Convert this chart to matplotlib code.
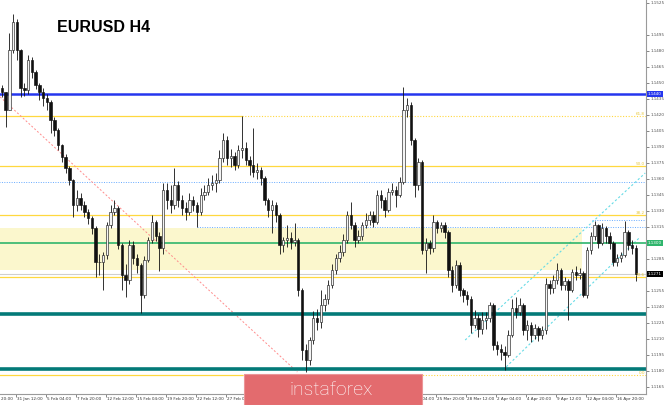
import matplotlib
matplotlib.use("Agg")
import matplotlib.pyplot as plt
import matplotlib.transforms as mtransforms
from matplotlib.patches import Rectangle

# ============================================================
# Price data (2 x H4 bars per candle), values in 1e-4 units
# ============================================================

first_open = 11445

closes = [11442, 11425, 11481, 11507, 11481, 11445, 11443, 11472, 11460, 11448,
          11442, 11436, 11432, 11415, 11406, 11392, 11381, 11370, 11359, 11336,
          11342, 11336, 11329, 11323, 11314, 11282, 11282, 11289, 11317, 11329,
          11333, 11298, 11270, 11265, 11298, 11286, 11279, 11251, 11284, 11303,
          11320, 11307, 11295, 11350, 11340, 11336, 11354, 11340, 11333, 11329,
          11340, 11336, 11329, 11345, 11348, 11354, 11356, 11359, 11380, 11397,
          11380, 11382, 11373, 11387, 11389, 11378, 11373, 11367, 11368, 11361,
          11340, 11331, 11336, 11326, 11298, 11303, 11305, 11301, 11303, 11256,
          11200, 11190, 11209, 11230, 11226, 11242, 11247, 11261, 11275, 11286,
          11292, 11303, 11326, 11317, 11303, 11307, 11317, 11322, 11326, 11320,
          11345, 11340, 11331, 11348, 11350, 11345, 11357, 11425, 11429, 11397,
          11354, 11376, 11293, 11300, 11295, 11320, 11314, 11317, 11310, 11275,
          11261, 11279, 11256, 11251, 11247, 11223, 11230, 11219, 11228, 11230,
          11242, 11204, 11201, 11198, 11195, 11214, 11239, 11235, 11242, 11218,
          11223, 11214, 11220, 11214, 11218, 11262, 11258, 11265, 11275, 11261,
          11264, 11256, 11273, 11270, 11272, 11251, 11293, 11307, 11317, 11300,
          11314, 11307, 11300, 11282, 11286, 11289, 11310, 11298, 11295, 11271]

highs = [11448, 11442, 11497, 11515, 11510, 11482, 11450, 11476, 11474, 11462,
         11450, 11445, 11440, 11434, 11418, 11408, 11393, 11383, 11372, 11360,
         11350, 11347, 11339, 11332, 11325, 11316, 11290, 11292, 11320, 11336,
         11340, 11335, 11300, 11280, 11303, 11302, 11290, 11281, 11288, 11306,
         11326, 11322, 11310, 11356, 11356, 11354, 11370, 11358, 11345, 11338,
         11347, 11344, 11338, 11352, 11354, 11361, 11364, 11366, 11387, 11403,
         11400, 11388, 11385, 11392, 11419, 11395, 11382, 11408, 11375, 11371,
         11363, 11342, 11340, 11338, 11328, 11306, 11317, 11310, 11319, 11305,
         11258, 11205, 11212, 11236, 11238, 11256, 11252, 11265, 11280, 11290,
         11298, 11308, 11330, 11338, 11320, 11312, 11320, 11328, 11330, 11330,
         11350, 11350, 11343, 11352, 11356, 11353, 11362, 11446, 11436, 11432,
         11398, 11380, 11378, 11305, 11303, 11326, 11322, 11320, 11320, 11312,
         11278, 11284, 11282, 11258, 11255, 11250, 11237, 11233, 11235, 11235,
         11245, 11244, 11208, 11205, 11203, 11218, 11247, 11249, 11248, 11244,
         11228, 11226, 11224, 11222, 11222, 11267, 11265, 11270, 11281, 11277,
         11268, 11266, 11276, 11278, 11277, 11274, 11296, 11310, 11321, 11318,
         11319, 11316, 11310, 11302, 11290, 11292, 11321, 11312, 11303, 11298]

lows = [11437, 11409, 11425, 11478, 11472, 11437, 11438, 11440, 11455, 11444,
        11434, 11428, 11425, 11403, 11400, 11387, 11376, 11366, 11354, 11324,
        11330, 11331, 11324, 11318, 11308, 11268, 11270, 11256, 11285, 11314,
        11326, 11294, 11256, 11249, 11262, 11280, 11272, 11234, 11248, 11282,
        11300, 11302, 11274, 11290, 11332, 11328, 11332, 11334, 11326, 11322,
        11326, 11330, 11315, 11326, 11340, 11345, 11350, 11348, 11356, 11376,
        11373, 11371, 11368, 11370, 11380, 11373, 11364, 11362, 11360, 11354,
        11336, 11324, 11309, 11320, 11290, 11292, 11296, 11294, 11297, 11250,
        11190, 11179, 11186, 11205, 11218, 11220, 11236, 11243, 11258, 11271,
        11282, 11288, 11300, 11313, 11296, 11300, 11303, 11314, 11317, 11315,
        11318, 11333, 11324, 11329, 11345, 11334, 11343, 11355, 11418, 11392,
        11343, 11350, 11290, 11272, 11290, 11292, 11309, 11310, 11305, 11268,
        11254, 11258, 11250, 11245, 11242, 11216, 11220, 11212, 11215, 11219,
        11226, 11200, 11195, 11190, 11181, 11193, 11212, 11230, 11232, 11214,
        11209, 11207, 11210, 11208, 11210, 11215, 11252, 11253, 11262, 11256,
        11256, 11228, 11254, 11265, 11266, 11249, 11248, 11290, 11303, 11295,
        11298, 11300, 11294, 11278, 11278, 11282, 11287, 11293, 11290, 11264]

# date labels, one every 16 H4 bars (first one partly off the chart;
# the ones behind the logo are not visible in the picture)
date_labels = ["28 Jan 20:00", "31 Jan 12:00", "5 Feb 04:00", "7 Feb 20:00",
               "12 Feb 12:00", "15 Feb 04:00", "19 Feb 20:00", "22 Feb 12:00",
               "27 Feb 04:00", "21 Mar 04:00", "25 Mar 20:00",
               "28 Mar 12:00", "2 Apr 04:00", "4 Apr 20:00", "9 Apr 12:00",
               "12 Apr 04:00", "16 Apr 20:00"]
date_bars = [-8, 8, 24, 40, 56, 72, 88, 104, 120, 216, 232, 248, 264, 280,
             296, 312, 328]
tick_bars = [8, 24, 40, 56, 72, 88, 104, 120, 136, 152, 168, 184, 200,
             216, 232, 248, 264, 280, 296, 312, 328]

price_ticks = [1.1165, 1.1180, 1.1195, 1.1210, 1.1225, 1.1240, 1.1255,
               1.1285, 1.1315, 1.1330, 1.1345, 1.1360, 1.1375, 1.1390,
               1.1405, 1.1420, 1.1435, 1.1450, 1.1465, 1.1480, 1.1495, 1.1525]

# horizontal levels
level_blue = 1.1440
level_green = 1.1300
level_teal = [1.1233, 1.1182]
level_last = 1.1271
zone = (1.1275, 1.1314)
zone_end_bar = 310
fib_levels = [1.1419, 1.1372, 1.1326, 1.1268, 1.1176]
fib_names = ["61.8", "50.0", "38.2", "23.6", "0.0"]
fib_end_bar = 128.5
dotted_blue = [(1.1357, -1), (1.1315, 104.5), (1.1322, 315)]

# trend lines: (bar, price) anchors
trend_red = [(-0.5, 1.1437), (158, 1.1179)]
channel_upper = [(247.5, 1.1209), (343.5, 1.13656)]
channel_lower = [(267.7, 1.1181), (340.8, 1.13056)]

# ============================================================
# Figure
# ============================================================

W, H = 665, 405
fig = plt.figure(figsize=(W / 100, H / 100), dpi=100)
fig.patch.set_facecolor("white")
ax = fig.add_axes([0, 11 / H, 646 / W, 1 - 11 / H])

x_min, x_max = -0.53, 343.9
ax.set_xlim(x_min, x_max)
ax.set_ylim(1.11584, 1.15278)

FIB = "#ffd83f"

# zone and levels
ax.fill_between([x_min, zone_end_bar], zone[0], zone[1], color="#fbf7cd", lw=0, zorder=0)
ax.axhline(level_last, color="#cfcfcf", lw=0.8, zorder=1)
for lvl, name in zip(fib_levels, fib_names):
    if name in ("61.8", "0.0"):
        ax.plot([x_min, fib_end_bar], [lvl, lvl], color=FIB, lw=0.9, zorder=1)
        ax.plot([fib_end_bar, x_max], [lvl, lvl], color=FIB, lw=0.8,
                ls=(0, (1, 1.5)), zorder=1)
    else:
        ax.axhline(lvl, color=FIB, lw=0.9, zorder=1)
    ax.text(x_max - 0.5, lvl + 0.00003, name, fontsize=3, color="#e8c83a",
            ha="right", va="bottom", zorder=5)
for lvl, start in dotted_blue:
    ax.plot([start, x_max], [lvl, lvl], color="#66aaff", lw=0.7,
            ls=(0, (1, 1.5)), zorder=1)

ax.plot(*zip(*trend_red), color="#ff8c8c", lw=0.7, ls=(0, (2, 2)), zorder=1)
ax.plot(*zip(*channel_upper), color="#66dbe6", lw=0.8, ls=(0, (2, 2)), zorder=1)
ax.plot(*zip(*channel_lower), color="#66dbe6", lw=0.8, ls=(0, (2, 2)), zorder=1)

ax.axhline(level_green, color="#2fb56c", lw=1.2, zorder=2)
ax.axhline(level_blue, color="#2536ee", lw=1.8, zorder=2)
for lvl in level_teal:
    ax.axhline(lvl, color="#037a78", lw=2.6, zorder=2)

# candles
opens = [first_open] + closes[:-1]
for i, (o, c, h, l) in enumerate(zip(opens, closes, highs, lows)):
    xb = 2 * i + 0.5
    o, c, h, l = o / 1e4, c / 1e4, h / 1e4, l / 1e4
    ax.vlines(xb, l, h, color="#111111", lw=0.6, zorder=3)
    bottom = min(o, c)
    height = max(abs(c - o), 0.00004)
    if c >= o:
        ax.bar(xb, height, 1.3, bottom, facecolor="#f4f4f4", edgecolor="#222222",
               lw=0.45, zorder=4)
    else:
        ax.bar(xb, height, 1.3, bottom, facecolor="#111111", edgecolor="#111111",
               lw=0.45, zorder=4)

# axes frame
for s in ("left", "top"):
    ax.spines[s].set_visible(False)
for s in ("right", "bottom"):
    ax.spines[s].set_color("#9a9a9a")
    ax.spines[s].set_linewidth(0.8)

ax.yaxis.tick_right()
ax.set_yticks(price_ticks)
ax.set_yticklabels([f"{p:.4f}" for p in price_ticks], fontsize=3, color="#333333")
ax.tick_params(axis="y", length=2, width=0.5, pad=1, colors="#555555")

ax.set_xticks(tick_bars)
ax.set_xticklabels([])
ax.tick_params(axis="x", length=2, width=0.5, colors="#555555")
xtrans = mtransforms.blended_transform_factory(ax.transData, ax.transAxes)
for b, lab in zip(date_bars, date_labels):
    ax.text(b + 0.3, -0.008, lab, transform=xtrans, fontsize=3, color="#333333",
            ha="left", va="top", clip_on=False)

# price boxes on the right axis
ytrans = mtransforms.blended_transform_factory(ax.transAxes, ax.transData)
for lvl, bg in ((level_blue, "#2536ee"), (level_green, "#2fb56c"), (level_last, "#000000")):
    ax.text(1.003, lvl, f"{lvl:.4f}", transform=ytrans, fontsize=3, color="white",
            ha="left", va="center", clip_on=False, zorder=6,
            bbox=dict(boxstyle="square,pad=0.25", fc=bg, ec="none"))

# title
fig.text(57 / W, 1 - 32 / H, "EURUSD H4", fontsize=11.5, fontweight="bold",
         family="Liberation Sans", color="black", va="baseline")

# logo
fig.patches.append(Rectangle((244 / W, 0), 178 / W, 31 / H, transform=fig.transFigure,
                             facecolor="#e36b6e", edgecolor="#ec9597", lw=0.8, zorder=10))
fig.text(331 / W, 1 - 395 / H, "instaforex", fontsize=14, family="Roboto",
         fontweight="light", color="white", ha="center", va="baseline", zorder=11)

fig.savefig("out.png", dpi=100)
